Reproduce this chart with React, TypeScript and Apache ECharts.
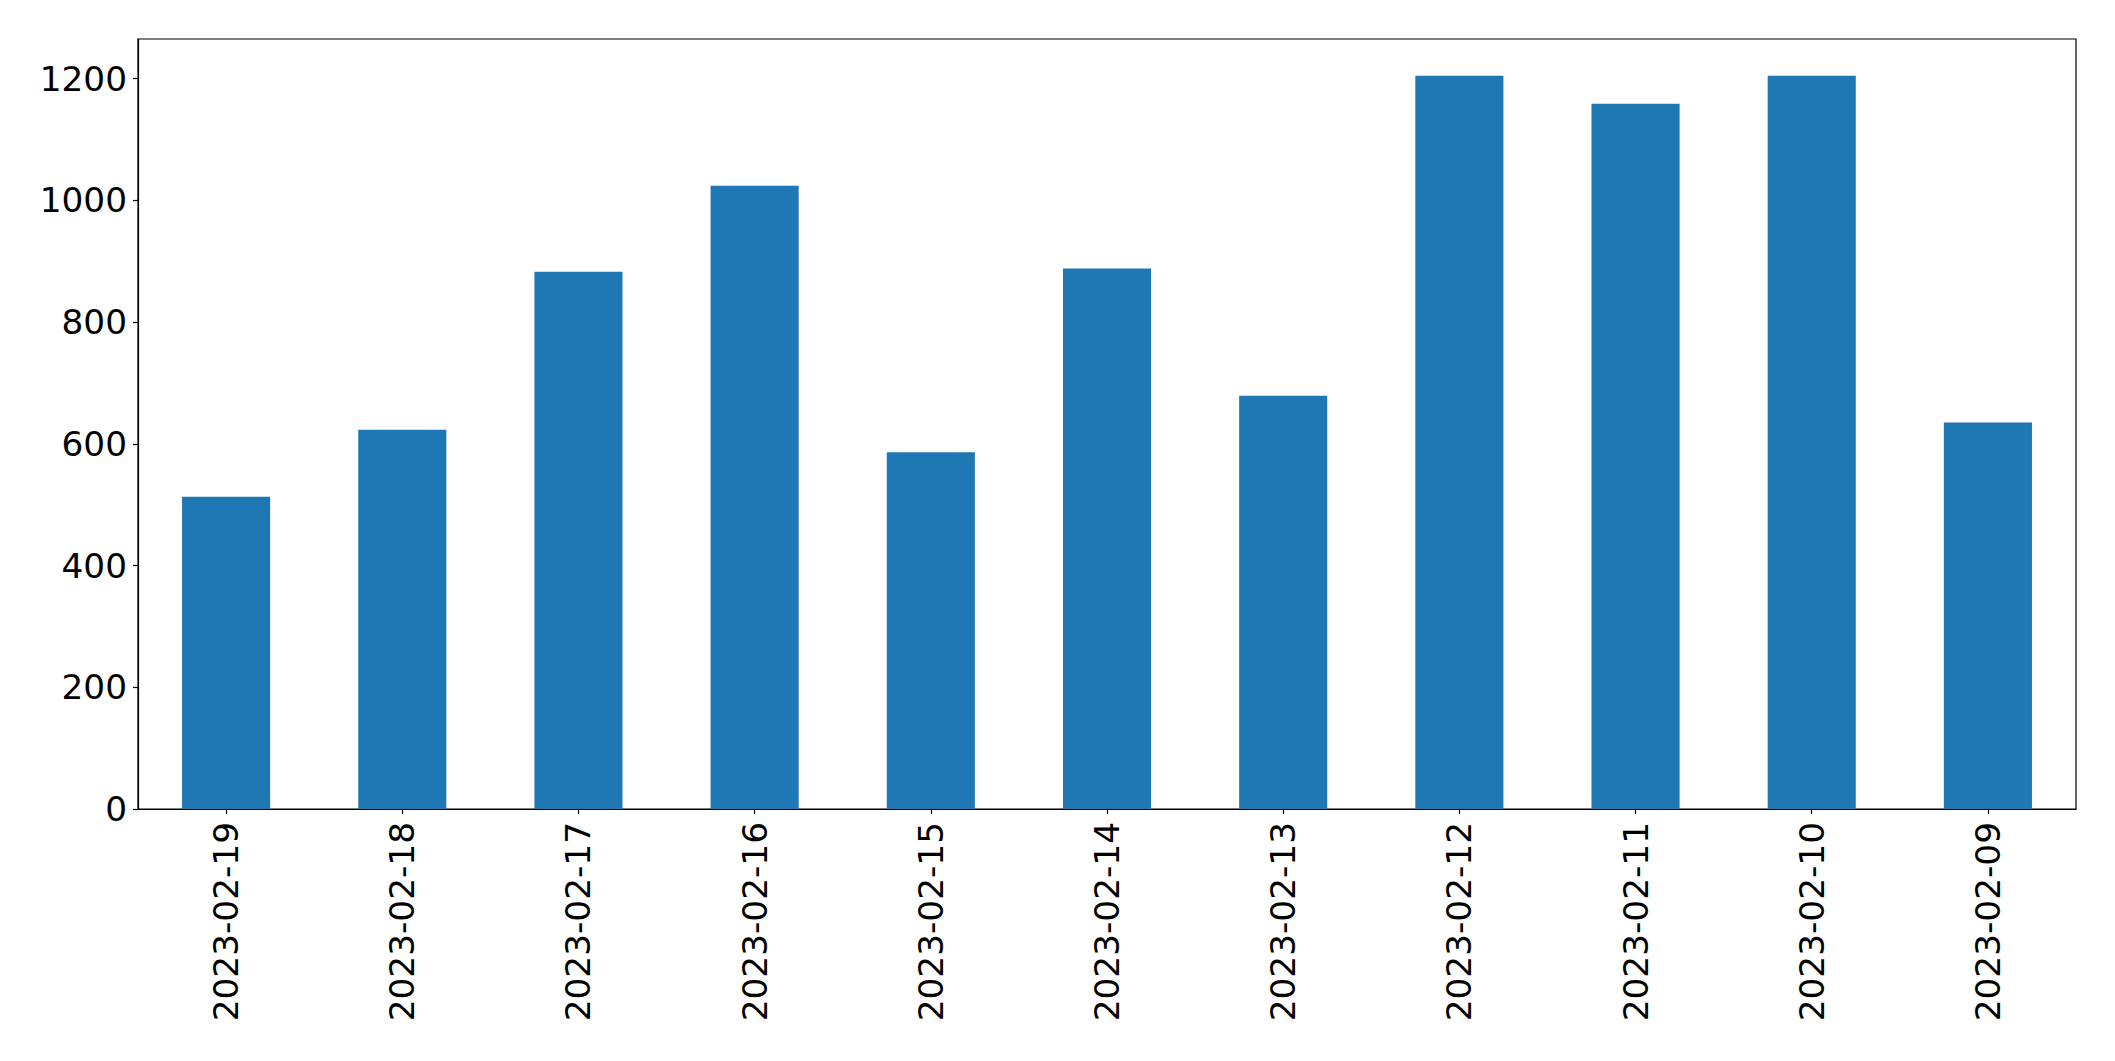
import React, { useEffect, useRef } from "react";
import * as echarts from "echarts";

const categories = [
  "2023-02-19",
  "2023-02-18",
  "2023-02-17",
  "2023-02-16",
  "2023-02-15",
  "2023-02-14",
  "2023-02-13",
  "2023-02-12",
  "2023-02-11",
  "2023-02-10",
  "2023-02-09",
];
const values = [513, 623, 883, 1024, 586, 888, 679, 1205, 1159, 1205, 635];
const yTicks = [0, 200, 400, 600, 800, 1000, 1200];

export default function App() {
  const ref = useRef<HTMLDivElement>(null);
  useEffect(() => {
    if (!ref.current) return;
    const chart = echarts.init(ref.current, undefined, { renderer: "svg" });
    const maxVal = Math.max(...values) * 1.05;
    const font = "DejaVu Sans";
    chart.setOption({
      animation: false,
      backgroundColor: "#ffffff",
      grid: {
        left: 138,
        right: 39,
        top: 39,
        bottom: 252,
        show: true,
        borderColor: "#000000",
        borderWidth: 1.2,
        containLabel: false,
      },
      xAxis: {
        type: "category",
        data: categories,
        boundaryGap: true,
        axisLine: { show: true, lineStyle: { color: "#000000", width: 1.2 } },
        axisTick: {
          show: true,
          alignWithLabel: true,
          length: 5,
          lineStyle: { color: "#000000", width: 1.2 },
        },
        axisLabel: {
          rotate: 90,
          margin: 13,
          fontSize: 34.3,
          fontFamily: font,
          color: "#000000",
          interval: 0,
        },
        splitLine: { show: false },
      },
      yAxis: {
        type: "value",
        min: 0,
        max: maxVal,
        axisLine: { show: true, lineStyle: { color: "#000000", width: 1.2 } },
        axisTick: {
          show: true,
          length: 5,
          customValues: yTicks,
          lineStyle: { color: "#000000", width: 1.2 },
        },
        axisLabel: {
          margin: 11,
          fontSize: 34.3,
          fontFamily: font,
          color: "#000000",
          customValues: yTicks,
          formatter: (v: number) => String(Math.round(v)),
        },
        splitLine: { show: false },
      },
      series: [
        {
          type: "bar",
          data: values,
          barWidth: "50%",
          itemStyle: { color: "#1f77b4" },
        },
      ],
    });
    return () => chart.dispose();
  }, []);
  return (
    <div
      ref={ref}
      style={{ position: "fixed", left: 0, top: 0, width: 2115, height: 1061, background: "#fff" }}
    />
  );
}
